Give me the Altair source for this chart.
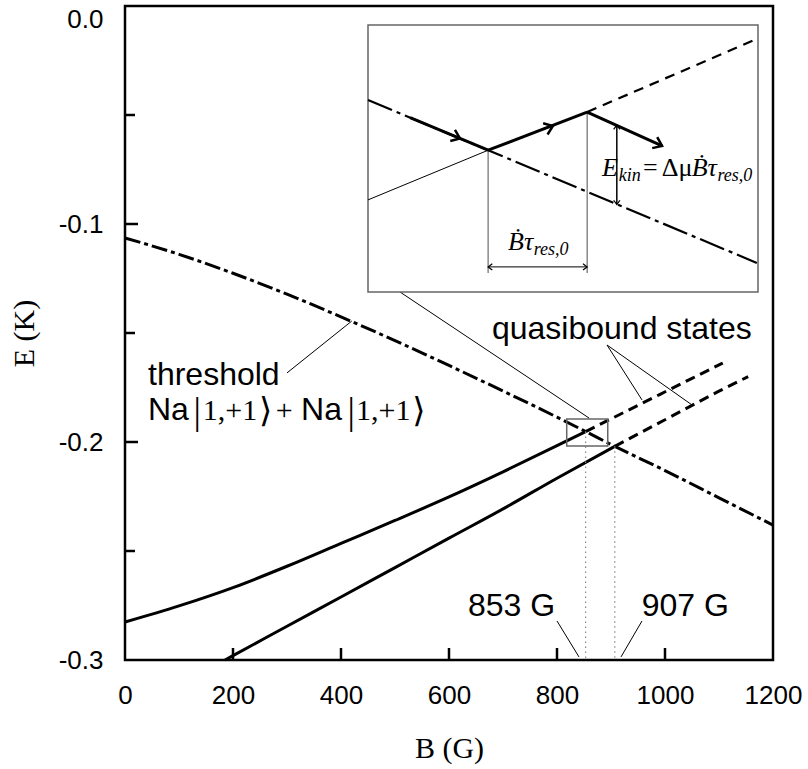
import altair as alt
import pandas as pd

# ---------------- main curves (B in G, E in K) ----------------
th_B = [0, 100, 200, 300, 400, 500, 600, 700, 800, 853, 907, 1000, 1100, 1200]
th_E = [-0.1064, -0.1139, -0.1226, -0.1322, -0.1426, -0.1535, -0.1649, -0.1766,
        -0.1886, -0.1952, -0.2020, -0.2131, -0.2256, -0.2381]

up_B = [0, 100, 200, 300, 400, 500, 600, 700, 800, 853]
up_E = [-0.2826, -0.2752, -0.2668, -0.2570, -0.2465, -0.2360, -0.2252, -0.2137, -0.2017, -0.1952]
upq_B = [853, 950, 1050, 1107]
upq_E = [-0.1952, -0.1832, -0.1708, -0.1638]

lo_B = [185, 200, 300, 400, 500, 600, 700, 800, 907]
lo_E = [-0.3000, -0.2980, -0.2845, -0.2711, -0.2576, -0.2441, -0.2307, -0.2166, -0.2020]
loq_B = [907, 1000, 1100, 1154]
loq_E = [-0.2020, -0.1898, -0.1767, -0.1700]

res_B = [853, 907]
res_E = [-0.1952, -0.2020]

x_ticks = [200, 400, 600, 800, 1000]
x_labels = [0, 200, 400, 600, 800, 1000, 1200]
y_major = [-0.1, -0.2]
y_minor = [-0.05, -0.15, -0.25]
y_labels = [0.0, -0.1, -0.2, -0.3]

# zoom box around first crossing
box_B = [818, 894]
box_E = [-0.1894, -0.2018]

# leader lines (B1,E1)->(B2,E2)
lead_B1 = [300, 892.6, 892.6, 800, 957.4, 509.3]
lead_E1 = [-0.1683, -0.1555, -0.1555, -0.2821, -0.2821, -0.1312]
lead_B2 = [420, 957.4, 1050, 840.7, 918.5, 859.3]
lead_E2 = [-0.1445, -0.1807, -0.1830, -0.2986, -0.2986, -0.1890]

# annotations (text, B, E, style)
ann_text = ["threshold", "quasibound states", "853 G", "907 G",
            "Na", "|", "1,+1", "\u27e9", "+", "Na", "|", "1,+1", "\u27e9"]
ann_B = [42.6, 679.6, 635, 957, 42.6, 127, 144, 248, 279, 326, 412, 428, 532]
ann_E = [-0.1739, -0.1528, -0.2798, -0.2798, -0.1899, -0.1918, -0.1899, -0.1910,
         -0.1899, -0.1899, -0.1918, -0.1899, -0.1910]
ann_style = ["sans", "sans", "sans", "sans", "sans", "bar", "serif", "ket",
             "serif", "sans", "bar", "serif", "ket"]

# ---------------- inset (schematic, local units 0..1) ----------------
in_th_u = [0.0, 0.308, 0.997]
in_th_v = [0.719, 0.531, 0.109]
in_thpath_u = [0.108, 0.308]
in_thpath_v = [0.653, 0.531]
in_lo_u = [0.0, 0.308]
in_lo_v = [0.345, 0.531]
in_lopath_u = [0.308, 0.562]
in_lopath_v = [0.531, 0.674]
in_loq_u = [0.562, 0.997]
in_loq_v = [0.674, 0.948]
in_jump_u = [0.562, 0.754]
in_jump_v = [0.674, 0.547]
in_vert_u = [0.308, 0.562]
in_vert_v1 = [0.531, 0.674]
in_vert_v2 = [0.071, 0.071]
in_harrow_u = [0.308, 0.562]
in_harrow_v = 0.094
in_varrow_u = 0.638
in_varrow_v = [0.625, 0.328]

head_u = [0.236, 0.474, 0.754]
head_v = [0.575, 0.622, 0.547]
head_ang = [22.7, 338.5, 24.4]
small_u = [0.308, 0.562, 0.638, 0.638]
small_v = [0.094, 0.094, 0.625, 0.328]
small_ang = [180, 0, 270, 90]

in_text = ["E", "kin", "=", "\u0394\u03bc", "\u1e02\u03c4", "res,0", "\u1e02\u03c4", "res,0"]
in_tu = [0.600, 0.643, 0.705, 0.753, 0.830, 0.896, 0.359, 0.425]
in_tv = [0.434, 0.414, 0.434, 0.434, 0.434, 0.414, 0.157, 0.137]
in_tstyle = ["it", "sub", "rm", "rm", "it", "sub", "it", "sub"]

# ---------------- scales / axes ----------------
xs = alt.Scale(domain=[0, 1200], nice=False, zero=False)
ys = alt.Scale(domain=[-0.3, 0], nice=False, zero=False)
xaxis = alt.Axis(title="B (G)", values=x_labels, format="d", labelFont="Liberation Sans",
                 labelFontSize=26, labelColor="black", ticks=False, domain=False, grid=False,
                 labelPadding=22, labelFlush=False, titleFont="Liberation Serif",
                 titleFontSize=30, titleFontWeight="normal", titleColor="black",
                 titleY=88, titleBaseline="middle")
yaxis = alt.Axis(title="E (K)", values=y_labels,
                 labelExpr="datum.value == 0 ? '0.0' : '-' + format(abs(datum.value), '.1f')",
                 labelFont="Liberation Sans", labelFontSize=26, labelColor="black",
                 labelBaseline={"condition": {"test": "datum.value == 0", "value": "top"},
                                "value": "middle"},
                 ticks=False, domain=False, grid=False, labelPadding=22, labelFlush=False,
                 titleFont="Liberation Serif", titleFontSize=30, titleFontWeight="normal",
                 titleColor="black", titleAngle=270, titleX=-101, titleY=327,
                 titleBaseline="middle", titleAlign="center")


def X(f):
    return alt.X(f, type="quantitative", scale=xs, axis=xaxis)


def Y(f):
    return alt.Y(f, type="quantitative", scale=ys, axis=yaxis)


def line(B, E, **kw):
    df = pd.DataFrame({"B": B, "E": E, "o": range(len(B))})
    return alt.Chart(df).mark_line(color="black", interpolate="monotone", **kw).encode(
        x=X("B"), y=Y("E"), order="o:Q")


main_layers = [
    line(th_B, th_E, strokeWidth=3, strokeDash=[16, 4, 4, 4]),
    line(up_B, up_E, strokeWidth=3),
    line(upq_B, upq_E, strokeWidth=3, strokeDash=[10, 6]),
    line(lo_B, lo_E, strokeWidth=3),
    line(loq_B, loq_E, strokeWidth=3, strokeDash=[10, 6]),
]

res_df = pd.DataFrame({"B": res_B, "E": res_E, "E0": [-0.3, -0.3]})
main_layers.append(
    alt.Chart(res_df).mark_rule(color="#888", strokeWidth=1.2, strokeDash=[1.5, 3.5]).encode(
        x=X("B"), y=Y("E"), y2="E0"))

box_df = pd.DataFrame({"B1": [box_B[0]], "B2": [box_B[1]], "E1": [box_E[0]], "E2": [box_E[1]]})
main_layers.append(
    alt.Chart(box_df).mark_rect(fillOpacity=0, stroke="#666", strokeWidth=1.5).encode(
        x=X("B1"), x2="B2", y=Y("E1"), y2="E2"))

lead_df = pd.DataFrame({"B1": lead_B1, "E1": lead_E1, "B2": lead_B2, "E2": lead_E2})
main_layers.append(
    alt.Chart(lead_df).mark_rule(color="black", strokeWidth=1).encode(
        x=X("B1"), y=Y("E1"), x2="B2", y2="E2"))

xt_df = pd.DataFrame({"B": x_ticks})
main_layers.append(
    alt.Chart(xt_df).mark_rule(color="black", strokeWidth=2.5).encode(
        x=X("B"), y=alt.value(642), y2=alt.value(654)))
ymaj_df = pd.DataFrame({"E": y_major})
main_layers.append(
    alt.Chart(ymaj_df).mark_rule(color="black", strokeWidth=2.5).encode(
        y=Y("E"), x=alt.value(0), x2=alt.value(13)))
ymin_df = pd.DataFrame({"E": y_minor})
main_layers.append(
    alt.Chart(ymin_df).mark_rule(color="black", strokeWidth=2.5).encode(
        y=Y("E"), x=alt.value(0), x2=alt.value(10)))

ann_df = pd.DataFrame({"t": ann_text, "B": ann_B, "E": ann_E, "s": ann_style})
styles = {
    "sans": dict(font="Liberation Sans", fontSize=32),
    "serif": dict(font="Liberation Serif", fontSize=30),
    "bar": dict(font="Liberation Serif", fontSize=37),
    "ket": dict(font="DejaVu Sans ExtraLight, DejaVu Serif, DejaVu Sans", fontSize=34),
}
for s, kw in styles.items():
    main_layers.append(
        alt.Chart(ann_df).transform_filter(alt.datum.s == s).mark_text(
            align="left", baseline="alphabetic", color="black", **kw).encode(
            x=X("B"), y=Y("E"), text="t:N"))

main = alt.layer(*main_layers)

# ---------------- inset layers ----------------
us = alt.Scale(domain=[0, 1], range=[243, 633], nice=False, zero=False)
vs = alt.Scale(domain=[0, 1], range=[286, 19], nice=False, zero=False)


def U(f):
    return alt.X(f, type="quantitative", scale=us, axis=None)


def V(f):
    return alt.Y(f, type="quantitative", scale=vs, axis=None)


def iline(u, v, **kw):
    df = pd.DataFrame({"u": u, "v": v, "o": range(len(u))})
    return alt.Chart(df).mark_line(color="black", **kw).encode(x=U("u"), y=V("v"), order="o:Q")


frame_df = pd.DataFrame({"u1": [0.0], "u2": [1.0], "v1": [0.0], "v2": [1.0]})
inset_layers = [
    alt.Chart(frame_df).mark_rect(fill="white", stroke="#666", strokeWidth=1.5).encode(
        x=U("u1"), x2="u2", y=V("v1"), y2="v2"),
]
vert_df = pd.DataFrame({"u": in_vert_u, "v1": in_vert_v1, "v2": in_vert_v2})
inset_layers.append(
    alt.Chart(vert_df).mark_rule(color="#777", strokeWidth=1.3).encode(x=U("u"), y=V("v1"), y2="v2"))
inset_layers += [
    iline(in_th_u, in_th_v, strokeWidth=2.2, strokeDash=[26, 5, 4, 5]),
    iline(in_thpath_u, in_thpath_v, strokeWidth=3),
    iline(in_lo_u, in_lo_v, strokeWidth=1),
    iline(in_lopath_u, in_lopath_v, strokeWidth=3),
    iline(in_loq_u, in_loq_v, strokeWidth=2.2, strokeDash=[10, 7]),
    iline(in_jump_u, in_jump_v, strokeWidth=3),
]
harr_df = pd.DataFrame({"u1": [in_harrow_u[0]], "u2": [in_harrow_u[1]], "v": [in_harrow_v]})
inset_layers.append(
    alt.Chart(harr_df).mark_rule(color="black", strokeWidth=1).encode(x=U("u1"), x2="u2", y=V("v")))
varr_df = pd.DataFrame({"u": [in_varrow_u], "v1": [in_varrow_v[0]], "v2": [in_varrow_v[1]]})
inset_layers.append(
    alt.Chart(varr_df).mark_rule(color="black", strokeWidth=1.5).encode(x=U("u"), y=V("v1"), y2="v2"))

chevron = "M-1,-0.75L0,0L-1,0.75"
head_df = pd.DataFrame({"u": head_u, "v": head_v, "a": head_ang})
inset_layers.append(
    alt.Chart(head_df).mark_point(shape=chevron, filled=False, color="black", strokeWidth=2.5,
                                  size=260, opacity=1).encode(
        x=U("u"), y=V("v"), angle=alt.Angle("a:Q", scale=None)))
small_df = pd.DataFrame({"u": small_u, "v": small_v, "a": small_ang})
inset_layers.append(
    alt.Chart(small_df).mark_point(shape=chevron, filled=False, color="black", strokeWidth=1.2,
                                   size=70, opacity=1).encode(
        x=U("u"), y=V("v"), angle=alt.Angle("a:Q", scale=None)))

in_df = pd.DataFrame({"t": in_text, "u": in_tu, "v": in_tv, "s": in_tstyle})
istyles = {
    "it": dict(font="Liberation Serif", fontSize=26, fontStyle="italic"),
    "sub": dict(font="Liberation Serif", fontSize=18, fontStyle="italic"),
    "rm": dict(font="Liberation Serif", fontSize=26),
}
for s, kw in istyles.items():
    inset_layers.append(
        alt.Chart(in_df).transform_filter(alt.datum.s == s).mark_text(
            align="left", baseline="alphabetic", color="black", **kw).encode(
            x=U("u"), y=V("v"), text="t:N"))

inset = alt.layer(*inset_layers)

chart = alt.layer(main, inset).resolve_scale(x="independent", y="independent").properties(
    width=648, height=654,
    autosize=alt.AutoSizeParams(type="none"),
    padding={"left": 125, "top": 6, "right": 35, "bottom": 109},
    background="white",
).configure_view(stroke="black", strokeWidth=2.5)

chart.save("out.html", embed_options={"renderer": "svg", "actions": False})
